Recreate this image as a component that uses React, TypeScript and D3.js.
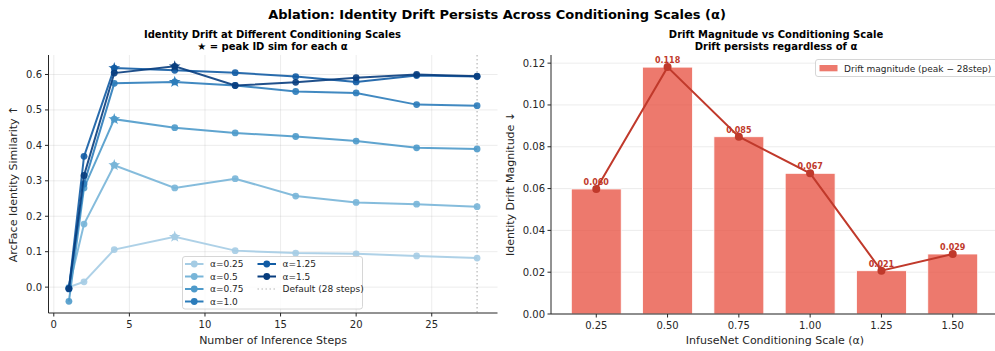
import React from "react";
import * as d3 from "d3";

const steps = [1, 2, 4, 8, 12, 16, 20, 24, 28];
const alphas = ["0.25", "0.5", "0.75", "1.0", "1.25", "1.5"];
const sim025 = [0.0, 0.015, 0.106, 0.142, 0.103, 0.096, 0.094, 0.088, 0.082];
const sim050 = [-0.002, 0.178, 0.344, 0.28, 0.306, 0.257, 0.239, 0.234, 0.227];
const sim075 = [-0.04, 0.28, 0.474, 0.45, 0.435, 0.425, 0.412, 0.393, 0.39];
const sim100 = [-0.003, 0.291, 0.575, 0.579, 0.569, 0.552, 0.548, 0.515, 0.512];
const sim125 = [-0.005, 0.369, 0.618, 0.612, 0.605, 0.594, 0.579, 0.597, 0.594];
const sim150 = [-0.004, 0.315, 0.604, 0.623, 0.569, 0.578, 0.591, 0.6, 0.595];
const seriesVals = [sim025, sim050, sim075, sim100, sim125, sim150];
const colorT = [0.35, 0.47, 0.59, 0.71, 0.83, 0.95];

const scaleLabels = ["0.25", "0.50", "0.75", "1.00", "1.25", "1.50"];
const driftVals = [0.0598, 0.1181, 0.0848, 0.0673, 0.0207, 0.0287];
const leftYTicks = [0.0, 0.1, 0.2, 0.3, 0.4, 0.5, 0.6];
const leftXTicks = [0, 5, 10, 15, 20, 25];
const rightYTicks = [0, 0.02, 0.04, 0.06, 0.08, 0.1, 0.12];

const FONT = "DejaVu Sans, sans-serif";
const TXT = "#262626";

function starPath(cx: number, cy: number, R: number) {
  const r = R * 0.382;
  const pts: string[] = [];
  for (let i = 0; i < 10; i++) {
    const rad = i % 2 === 0 ? R : r;
    const a = -Math.PI / 2 + (i * Math.PI) / 5;
    pts.push(`${cx + rad * Math.cos(a)},${cy + rad * Math.sin(a)}`);
  }
  return "M" + pts.join("L") + "Z";
}

export default function App() {
  const W = 995, H = 351;
  const lx = d3.scaleLinear().domain([-0.35, 29.35]).range([48.5, 497.5]);
  const ly = d3.scaleLinear().domain([-0.073, 0.655]).range([313, 55]);
  const colors = colorT.map((t) => d3.interpolateBlues(t));
  const line = d3
    .line<[number, number]>()
    .x((d) => lx(d[0]))
    .y((d) => ly(d[1]));

  const rx = d3.scaleLinear().domain([-0.635, 5.635]).range([551, 998]);
  const ry = d3.scaleLinear().domain([0, 0.1239]).range([314, 55]);
  const barW = rx(0.35) - rx(-0.35);
  const rline = d3
    .line<number>()
    .x((_, i) => rx(i))
    .y((d) => ry(d));

  return (
    <svg width={W} height={H} style={{ position: "absolute", left: 0, top: 0, overflow: "hidden" }} fontFamily={FONT}>
      <rect width={W} height={H} fill="#fff" />
      <text x={497} y={19} textAnchor="middle" fontSize={13} fontWeight="bold" fill="#000">
        Ablation: Identity Drift Persists Across Conditioning Scales (α)
      </text>

      {/* LEFT PANEL */}
      <g>
        <text x={272.5} y={38} textAnchor="middle" fontSize={10} fontWeight="bold" fill="#000">
          Identity Drift at Different Conditioning Scales
        </text>
        <text x={272.5} y={50} textAnchor="middle" fontSize={10} fontWeight="bold" fill="#000">
          ★ = peak ID sim for each α
        </text>
        {leftYTicks.map((t) => (
          <line key={"gy" + t} x1={48.5} x2={497.5} y1={ly(t)} y2={ly(t)} stroke="#b0b0b0" strokeOpacity={0.3} strokeWidth={0.8} />
        ))}
        {leftXTicks.map((t) => (
          <line key={"gx" + t} x1={lx(t)} x2={lx(t)} y1={55} y2={313} stroke="#b0b0b0" strokeOpacity={0.3} strokeWidth={0.8} />
        ))}
        <line x1={lx(28)} x2={lx(28)} y1={55} y2={313} stroke="#999" strokeWidth={1.2} strokeDasharray="1.5,2.5" opacity={0.7} />
        {seriesVals.map((vals, si) => {
          const pts: [number, number][] = steps.map((s, i) => [s, vals[i]]);
          let pk = 0;
          vals.forEach((v, i) => {
            if (v > vals[pk]) pk = i;
          });
          return (
            <g key={"s" + si}>
              <path d={line(pts) || ""} fill="none" stroke={colors[si]} strokeWidth={2} opacity={0.9} />
              {pts.map((p, i) => (
                <circle key={i} cx={lx(p[0])} cy={ly(p[1])} r={3.4} fill={colors[si]} opacity={0.9} />
              ))}
              <path d={starPath(lx(pts[pk][0]), ly(pts[pk][1]), 6.2)} fill={colors[si]} />
            </g>
          );
        })}
        <line x1={48.5} x2={48.5} y1={55} y2={313} stroke={TXT} strokeWidth={1} />
        <line x1={48.5} x2={497.5} y1={313} y2={313} stroke={TXT} strokeWidth={1} />
        {leftYTicks.map((t) => (
          <g key={"yt" + t}>
            <line x1={45} x2={48.5} y1={ly(t)} y2={ly(t)} stroke={TXT} />
            <text x={42} y={ly(t) + 3.5} textAnchor="end" fontSize={10} fill={TXT}>
              {t.toFixed(1)}
            </text>
          </g>
        ))}
        {leftXTicks.map((t) => (
          <g key={"xt" + t}>
            <line x1={lx(t)} x2={lx(t)} y1={313} y2={316.5} stroke={TXT} />
            <text x={lx(t)} y={328} textAnchor="middle" fontSize={10} fill={TXT}>
              {t}
            </text>
          </g>
        ))}
        <text x={273} y={344} textAnchor="middle" fontSize={11} fill={TXT}>
          Number of Inference Steps
        </text>
        <text transform={`translate(17,184) rotate(-90)`} textAnchor="middle" fontSize={11} fill={TXT}>
          ArcFace Identity Similarity ↑
        </text>
        <rect x={182.5} y={256.5} width={180} height={52.5} rx={2.5} fill="#fff" fillOpacity={0.8} stroke="#ccc" strokeWidth={0.8} />
        {alphas.map((a, i) => {
          const col = i < 4 ? 0 : 1;
          const row = i < 4 ? i : i - 4;
          const hx = col === 0 ? 185 : 257.5;
          const yy = 264 + row * 12.5;
          return (
            <g key={"lg" + i}>
              <line x1={hx} x2={hx + 18.5} y1={yy} y2={yy} stroke={colors[i]} strokeWidth={2} />
              <circle cx={hx + 9.25} cy={yy} r={3.4} fill={colors[i]} />
              <text x={hx + 25} y={yy + 3.2} fontSize={9} fill={TXT}>
                α={a}
              </text>
            </g>
          );
        })}
        <line x1={257.5} x2={276} y1={289} y2={289} stroke="#999" strokeWidth={1.2} strokeDasharray="1.5,2.5" opacity={0.7} />
        <text x={282.5} y={292.2} fontSize={9} fill={TXT}>
          Default (28 steps)
        </text>
      </g>

      {/* RIGHT PANEL */}
      <g>
        <text x={776} y={38} textAnchor="middle" fontSize={10} fontWeight="bold" fill="#000">
          Drift Magnitude vs Conditioning Scale
        </text>
        <text x={776} y={50} textAnchor="middle" fontSize={10} fontWeight="bold" fill="#000">
          Drift persists regardless of α
        </text>
        {rightYTicks.map((t) => (
          <line key={"rg" + t} x1={551} x2={998} y1={ry(t)} y2={ry(t)} stroke="#b0b0b0" strokeOpacity={0.3} strokeWidth={0.8} />
        ))}
        {driftVals.map((v, i) => (
          <rect
            key={"b" + i}
            x={rx(i) - barW / 2}
            y={ry(v)}
            width={barW}
            height={ry(0) - ry(v)}
            fill="#e74c3c"
            fillOpacity={0.75}
            stroke="#fff"
            strokeWidth={0.8}
          />
        ))}
        <path d={rline(driftVals) || ""} fill="none" stroke="#c0392b" strokeWidth={2} />
        {driftVals.map((v, i) => (
          <circle key={"rc" + i} cx={rx(i)} cy={ry(v)} r={4} fill="#c0392b" />
        ))}
        {driftVals.map((v, i) => (
          <text key={"rl" + i} x={rx(i)} y={ry(v) - 4} textAnchor="middle" fontSize={8} fontWeight="bold" fill="#c0392b">
            {v.toFixed(3)}
          </text>
        ))}
        <line x1={551} x2={551} y1={55} y2={314} stroke={TXT} strokeWidth={1} />
        <line x1={551} x2={998} y1={314} y2={314} stroke={TXT} strokeWidth={1} />
        {rightYTicks.map((t) => (
          <g key={"ryt" + t}>
            <line x1={547.5} x2={551} y1={ry(t)} y2={ry(t)} stroke={TXT} />
            <text x={545} y={ry(t) + 3.5} textAnchor="end" fontSize={10} fill={TXT}>
              {t.toFixed(2)}
            </text>
          </g>
        ))}
        {scaleLabels.map((s, i) => (
          <g key={"rxt" + i}>
            <line x1={rx(i)} x2={rx(i)} y1={314} y2={317.5} stroke={TXT} />
            <text x={rx(i)} y={329} textAnchor="middle" fontSize={10} fill={TXT}>
              {s}
            </text>
          </g>
        ))}
        <text x={775} y={344} textAnchor="middle" fontSize={11} fill={TXT}>
          InfuseNet Conditioning Scale (α)
        </text>
        <text transform={`translate(514,184) rotate(-90)`} textAnchor="middle" fontSize={11} fill={TXT}>
          Identity Drift Magnitude ↓
        </text>
        <rect x={815.5} y={59.5} width={185} height={17} rx={2.5} fill="#fff" fillOpacity={0.8} stroke="#ccc" strokeWidth={0.8} />
        <rect x={819.5} y={65} width={18} height={6.3} fill="#e74c3c" fillOpacity={0.75} />
        <text x={844} y={71.5} fontSize={9} fill={TXT}>
          Drift magnitude (peak − 28step)
        </text>
      </g>
    </svg>
  );
}
